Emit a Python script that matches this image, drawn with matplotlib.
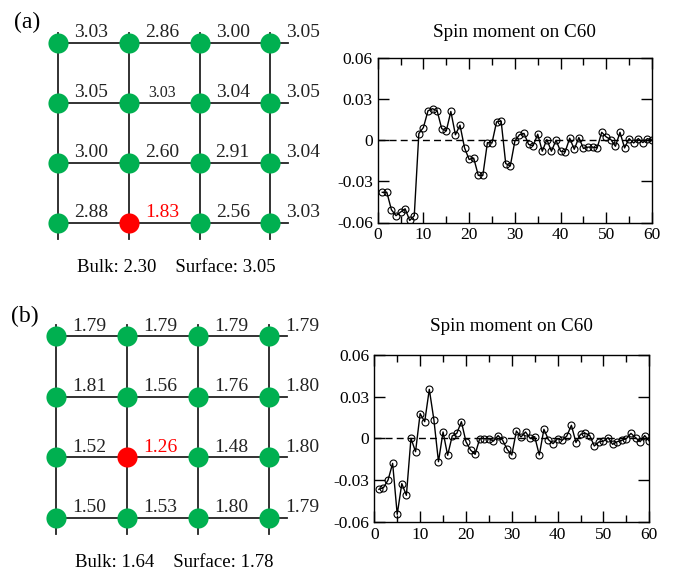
import matplotlib
matplotlib.use("Agg")
import matplotlib.pyplot as plt
import numpy as np

plt.rcParams["font.family"] = ["Liberation Serif", "DejaVu Serif"]

# spin moments per site, rows listed top to bottom
sites_a = [
    ["3.03", "2.86", "3.00", "3.05"],
    ["3.05", "3.03", "3.04", "3.05"],
    ["3.00", "2.60", "2.91", "3.04"],
    ["2.88", "1.83", "2.56", "3.03"],
]
vacancy_a = (3, 1)          # (row, col) of red site
summary_a = "Bulk: 2.30    Surface: 3.05"

sites_b = [
    ["1.79", "1.79", "1.79", "1.79"],
    ["1.81", "1.56", "1.76", "1.80"],
    ["1.52", "1.26", "1.48", "1.80"],
    ["1.50", "1.53", "1.80", "1.79"],
]
vacancy_b = (2, 1)
summary_b = "Bulk: 1.64    Surface: 1.78"

steps = np.arange(1, 61)
spin_a = [
    -0.038, -0.038, -0.0507, -0.055, -0.0524, -0.050, -0.0585, -0.055, 0.0049, 0.0093,
    0.0215, 0.023, 0.0215, 0.0085, 0.0068, 0.021, 0.004, 0.011, -0.0056, -0.014,
    -0.013, -0.0256, -0.0256, -0.0017, -0.002, 0.0134, 0.014, -0.017, -0.0188, -0.0007,
    0.004, 0.005, -0.003, -0.004, 0.0044, -0.008, 0.0005, -0.008, 0.0, -0.008,
    -0.0085, 0.0015, -0.0066, 0.002, -0.006, -0.005, -0.005, -0.0056, 0.0058, 0.0024,
    0.0005, -0.0044, 0.0058, -0.0056, 0.0012, -0.002, 0.0012, -0.0017, 0.0012, 0.0,
]
spin_b = [
    -0.0367, -0.0355, -0.030, -0.018, -0.0547, -0.0326, -0.041, 0.0, -0.0096, 0.0178,
    0.012, 0.0353, 0.0134, -0.0168, 0.0046, -0.0122, 0.0017, 0.0036, 0.012, -0.0024,
    -0.0084, -0.0115, -0.0002, -0.0002, -0.0002, -0.002, 0.002, -0.0014, -0.008, -0.012,
    0.0053, 0.001, 0.0046, 0.0, 0.0012, -0.012, 0.0065, -0.001, -0.0038, -0.0002,
    -0.0014, 0.0017, 0.0094, -0.003, 0.0029, 0.0038, 0.002, -0.0055, -0.0026, -0.002,
    0.0005, -0.0043, -0.0024, -0.0014, -0.0002, 0.0036, 0.0005, -0.0024, 0.002, -0.002,
]

W, H = 673, 571
GREEN = "#00B050"


def px_rect(left, top, right, bottom):
    return [left / W, 1 - bottom / H, (right - left) / W, (bottom - top) / H]


def draw_lattice(fig, x0, y0, dx, dy, sites, vacancy, summary, tag, top_ext, bot_ext):
    # axes in data units of lattice spacing; node (col, row) -> (col, 3 - row)
    xlim = (-0.8, 3.9)
    ylim = (-1.3, 3.65)
    left = x0 + xlim[0] * dx
    right = x0 + xlim[1] * dx
    top = y0 + (3 - ylim[1]) * dy
    bottom = y0 + (3 - ylim[0]) * dy
    ax = fig.add_axes(px_rect(left, top, right, bottom))
    ax.set_xlim(*xlim)
    ax.set_ylim(*ylim)
    ax.axis("off")

    for c in range(4):
        ax.plot([c, c], [-bot_ext, 3 + top_ext], color="#222222", lw=1.3, zorder=1)
    for r in range(4):
        ax.plot([0, 3.25], [r, r], color="#222222", lw=1.3, zorder=1)

    for r, row in enumerate(sites):
        for c, val in enumerate(row):
            red = (r, c) == vacancy
            ax.plot(c, 3 - r, "o", ms=14.5, color="red" if red else GREEN,
                    mec="none", zorder=2)
            size = 11.5 if (r, c) == (1, 1) and tag == "(a)" else 14
            ax.text(c + 0.47, 3 - r + 0.09, val, ha="center", va="baseline",
                    fontsize=size, color="red" if red else "#222222", zorder=3)

    ax.text(1.67, -0.74, summary, ha="center", va="center", fontsize=13.5)
    ax.text(-0.44, 3.33, tag, ha="center", va="center", fontsize=17)


def draw_spin(fig, rect, values, pad):
    ax = fig.add_axes(rect)
    ax.plot(steps, values, "-o", color="black", lw=1.0, ms=5,
            mfc="none", mec="black", mew=0.8, zorder=3)
    ax.axhline(0, color="black", lw=1.0, ls=(0, (5, 3)), zorder=2)
    ax.set_xlim(0, 60)
    ax.set_ylim(-0.06, 0.06)
    ax.set_xticks(np.arange(0, 61, 10))
    ax.set_xticks(np.arange(5, 60, 10), minor=True)
    ax.set_yticks([-0.06, -0.03, 0, 0.03, 0.06])
    ax.set_yticklabels(["-0.06", "-0.03", "0", "0.03", "0.06"])
    ax.tick_params(which="both", direction="in", top=True, right=True,
                   labelsize=12.5, width=1.0)
    ax.tick_params(which="major", length=8)
    ax.tick_params(which="minor", length=5)
    for s in ax.spines.values():
        s.set_linewidth(1.0)
    ax.set_title("Spin moment on C60", fontsize=13.8, pad=pad)
    return ax


fig = plt.figure(figsize=(W / 100, H / 100), dpi=100)

draw_lattice(fig, 58.3, 42.7, 70.6, 60.0, sites_a, vacancy_a, summary_a, "(a)", 0.16, 0.27)
draw_lattice(fig, 56.0, 336.0, 71.1, 60.6, sites_b, vacancy_b, summary_b, "(b)", 0.18, 0.26)

draw_spin(fig, px_rect(377.7, 58.0, 652.0, 222.5), spin_a, 15)
draw_spin(fig, px_rect(374.3, 355.0, 649.3, 521.7), spin_b, 17)

fig.savefig("out.png", dpi=100)
